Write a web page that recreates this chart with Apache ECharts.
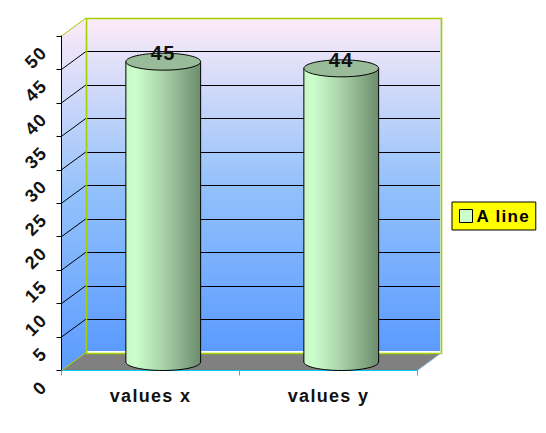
<!DOCTYPE html>
<html><head><meta charset="utf-8">
<style>html,body{margin:0;padding:0;background:#fff}#c{width:546px;height:433px}
svg text{letter-spacing:1.3px}</style>
<script src="https://cdn.jsdelivr.net/npm/echarts@6/dist/echarts.min.js"></script></head>
<body><div id="c"></div>
<script>
const categories = ['values x', 'values y'];
const seriesName = 'A line';
const seriesValues = [45, 44];
const yTicks = [5, 10, 15, 20, 25, 30, 35, 40, 45, 50];
const FONT = '"Liberation Sans", Arial, sans-serif';
const DX = 24.5, DY = -18;
const wallFill = {type:'linear',x:0,y:0,x2:0,y2:1,colorStops:[
  {offset:0,color:'#FDEBF8'},{offset:0.5,color:'#93C1FB'},{offset:1,color:'#5B9BFF'}]};
const bodyFill = {type:'linear',x:0,y:0,x2:1,y2:0,colorStops:[
  {offset:0,color:'#C6F8C6'},{offset:0.12,color:'#CCFFCC'},{offset:0.5,color:'#A9D2A9'},{offset:1,color:'#6C8C6C'}]};

function renderRoom(params, api){
  const r = params.coordSys;
  const L = r.x, R = r.x + r.width, B = r.y + r.height, T = r.y;
  const green = '#A4D000';
  const kids = [
    {type:'polygon',shape:{points:[[L,T],[L+DX,T+DY],[L+DX,B+DY],[L,B]]},style:{fill:wallFill}},
    {type:'rect',shape:{x:L+DX,y:T+DY,width:R-L,height:B-T},style:{fill:wallFill}},
    {type:'polygon',shape:{points:[[L,B],[L+DX,B+DY],[R+DX,B+DY],[R,B]]},style:{fill:'#808080'}}
  ];
  yTicks.forEach(v=>{
    const y = api.coord([categories[0], v])[1];
    if(v<50){
      kids.push({type:'line',shape:{x1:L,y1:y,x2:L+DX,y2:y+DY},style:{stroke:'#000',lineWidth:1}});
      kids.push({type:'line',shape:{x1:L+DX,y1:Math.round(y+DY)+.5,x2:R+DX,y2:Math.round(y+DY)+.5},style:{stroke:'#000',lineWidth:1}});
    }
  });
  const bx = Math.round(L+DX)+.5, by = Math.round(T+DY)+.5, bb = Math.round(B+DY)+.5, br = Math.round(R+DX)-.5;
  kids.push({type:'line',shape:{x1:bx,y1:bb-1.5,x2:br,y2:bb-1.5},style:{stroke:'#fff',lineWidth:2}});
  kids.push({type:'line',shape:{x1:br-1,y1:by,x2:br-1,y2:bb},style:{stroke:'#DDEBFF',lineWidth:1}});
  kids.push({type:'rect',shape:{x:bx,y:by,width:br-bx,height:bb-by},style:{fill:'none',stroke:green,lineWidth:1.6}});
  kids.push({type:'line',shape:{x1:L,y1:T,x2:L+DX,y2:T+DY},style:{stroke:green,lineWidth:1}});
  kids.push({type:'line',shape:{x1:L,y1:B,x2:L+DX,y2:B+DY},style:{stroke:green,lineWidth:1}});
  kids.push({type:'line',shape:{x1:R,y1:B,x2:R+DX,y2:B+DY},style:{stroke:'#A8CCF4',lineWidth:1}});
  return {type:'group',children:kids};
}

function renderCyl(params, api){
  const cat = api.value(0), val = api.value(1);
  const base = api.coord([cat, 0]), top = api.coord([cat, val]);
  const w = api.size([1,0])[0]*0.42, rx = w/2, ry = 8.5;
  const cx = base[0] + DX/2 + .5, by = base[1] - ry, ty = top[1] - ry + .7;
  return {type:'group',children:[
    {type:'ellipse',shape:{cx:cx,cy:by,rx:rx,ry:ry},style:{fill:bodyFill,stroke:'#000',lineWidth:1}},
    {type:'rect',shape:{x:cx-rx,y:ty,width:w,height:by-ty},style:{fill:bodyFill}},
    {type:'line',shape:{x1:cx-rx,y1:ty,x2:cx-rx,y2:by},style:{stroke:'#000',lineWidth:1}},
    {type:'line',shape:{x1:cx+rx,y1:ty,x2:cx+rx,y2:by},style:{stroke:'#000',lineWidth:1}},
    {type:'ellipse',shape:{cx:cx,cy:ty,rx:rx,ry:ry},style:{fill:'#99BB99',stroke:'#000',lineWidth:1}},
    {type:'text',style:{x:cx,y:ty-8.5,text:String(val),fill:'#111',font:'bold 20px '+FONT,align:'center',verticalAlign:'middle'}}
  ]};
}

const chart = echarts.init(document.getElementById('c'), null, {renderer:'svg', width:546, height:433});
chart.setOption({
  animation:false,
  backgroundColor:'#fff',
  grid:{left:61.5,top:36,width:356,height:334.5,containLabel:false},
  xAxis:{type:'category',data:categories,z:5,
    axisLine:{lineStyle:{color:'#00C8F0',width:1}},
    axisTick:{show:true,length:5,alignWithLabel:false,lineStyle:{color:'#00C8F0'}},
    axisLabel:{color:'#111',fontFamily:FONT,fontWeight:'bold',fontSize:18,margin:16}},
  yAxis:{type:'value',min:0,max:50,interval:5,z:5,
    axisLine:{show:true,lineStyle:{color:'#000',width:1}},
    axisTick:{show:true,length:5,lineStyle:{color:'#000'}},
    splitLine:{show:false},
    axisLabel:{color:'#111',fontFamily:FONT,fontWeight:'bold',fontSize:18,rotate:45,margin:4,
      align:'right',verticalAlign:'middle',padding:[0,19,0,0]}},
  legend:{show:true,left:452,top:202,orient:'vertical',backgroundColor:'#FFFF00',borderColor:'#000',borderWidth:1,borderRadius:0,
    padding:[5.5,13,5.5,7],itemWidth:13,itemHeight:13,itemGap:0,
    data:[{name:seriesName,icon:'rect',itemStyle:{color:'#CCFFCC',borderColor:'#000',borderWidth:1}}],
    textStyle:{color:'#000',fontFamily:FONT,fontWeight:'bold',fontSize:17,padding:[0,0,0,-1]}},
  series:[
    {type:'custom',name:'room',z:1,silent:true,data:[[categories[0],0]],renderItem:renderRoom,clip:false,legendHoverLink:false},
    {type:'custom',name:seriesName,z:6,clip:false,
      itemStyle:{color:'#CCFFCC'},
      data:categories.map((c,i)=>[c,seriesValues[i]]),
      encode:{x:0,y:1},renderItem:renderCyl}
  ]
});
</script></body></html>
